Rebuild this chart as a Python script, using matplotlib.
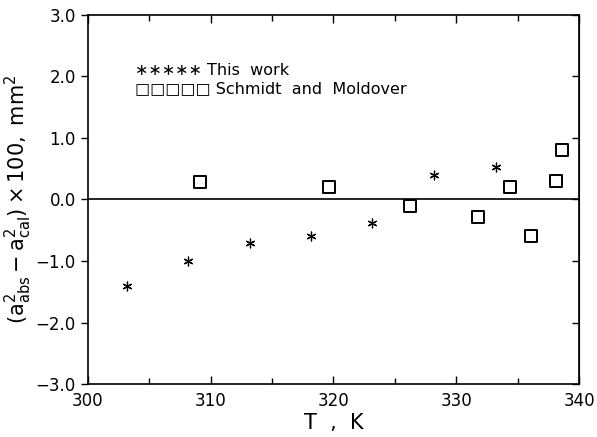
import numpy as np
import matplotlib
matplotlib.use('Agg')
import matplotlib.pyplot as plt

# Datos: este trabajo (asteriscos)
t_this = np.array([303.2, 308.2, 313.2, 318.2, 323.1, 328.2, 333.2])
d_this = np.array([-1.40, -1.00, -0.70, -0.59, -0.39, 0.39, 0.52])

# Datos: Schmidt and Moldover (cuadrados)
t_sm = np.array([309.1, 319.6, 326.2, 331.8, 334.4, 336.1, 338.1, 338.6])
d_sm = np.array([0.29, 0.21, -0.10, -0.29, 0.21, -0.60, 0.30, 0.80])

x_ticks = [300, 310, 320, 330, 340]
y_ticks = [-3.0, -2.0, -1.0, 0.0, 1.0, 2.0, 3.0]

fig = plt.figure(figsize=(5.97, 4.37), dpi=100)
ax = fig.add_axes([0.147, 0.121, 0.823, 0.845])

ax.axhline(0, color='black', lw=1.2)
ax.scatter(t_this, d_this, marker=(6, 2, 0), s=40, color='black', linewidths=0.9, zorder=5)
ax.scatter(t_sm, d_sm, marker='s', s=70, facecolors='white', edgecolors='black', linewidths=1.4, zorder=5)

# Leyenda escrita a mano como en el original
ax.text(0.096, 0.850, '\u2217\u2217\u2217\u2217\u2217 This  work', transform=ax.transAxes, fontsize=11.5, va='center')
ax.text(0.096, 0.800, '\u25a1\u25a1\u25a1\u25a1\u25a1 Schmidt  and  Moldover', transform=ax.transAxes, fontsize=11.5, va='center')

ax.set_xlim(300, 340)
ax.set_ylim(-3.0, 3.0)
ax.set_xticks(x_ticks)
ax.set_xticks(np.arange(300, 341, 5), minor=True)
ax.set_yticks(y_ticks)
ax.set_yticklabels([('%.1f' % v).replace('-', '\u2212') for v in y_ticks])
ax.tick_params(axis='x', which='both', direction='in', top=True, labelsize=12, width=1.0)
ax.tick_params(axis='x', which='major', length=6, pad=6)
ax.tick_params(axis='x', which='minor', length=4)
ax.tick_params(axis='y', which='major', direction='out', length=5, labelsize=12, width=1.0)

# ticks hacia dentro en el eje derecho
ax_r = ax.secondary_yaxis('right')
ax_r.set_yticks(y_ticks)
ax_r.tick_params(direction='in', length=5, width=1.0, labelright=False)

for s in ax.spines.values():
    s.set_linewidth(1.2)

ax.set_xlabel('T  ,  K', fontsize=15, labelpad=2)
ax.set_ylabel(r'$(\mathrm{a}^2_{\mathrm{abs}}-\mathrm{a}^2_{\mathrm{cal}})\times100,\ \mathrm{mm}^2$', fontsize=15, labelpad=1)

fig.savefig('out.png', dpi=100)
